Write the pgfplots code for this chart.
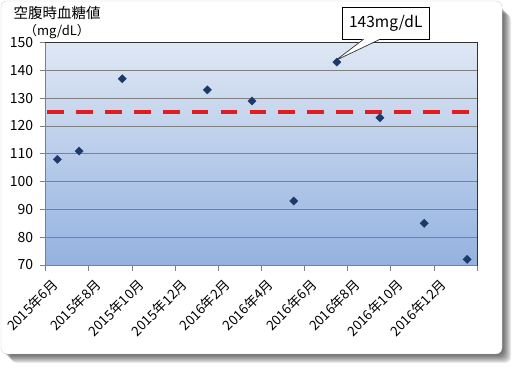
\documentclass[border=0pt]{standalone}
\usepackage{fontspec}
\setmainfont{Noto Sans CJK JP}
\usepackage{pgfplots}
\pgfplotsset{compat=1.18}
\definecolor{markblue}{RGB}{28,58,105}
\definecolor{bgtop}{RGB}{222,231,244}
\definecolor{bgbot}{RGB}{148,178,224}
\definecolor{refred}{RGB}{226,28,28}
\definecolor{gridgray}{RGB}{128,128,128}
\begin{document}
\begin{tikzpicture}[x=1pt,y=1pt]
\path[use as bounding box] (0,0) rectangle (518,371);
\foreach \i in {1,...,9} {
  \fill[black,opacity=0.085,rounded corners=6] (2+\i,17-\i) rectangle (502+\i,366-\i);
}
\fill[white, draw=gray!35, rounded corners=6] (1,17) rectangle (502,370);
\node[font=\fontsize{14.5}{16}\selectfont, inner sep=0] at (57,358) {空腹時血糖値};
\node[font=\fontsize{13}{15}\selectfont, inner sep=0] at (57,339) {（mg/dL）};
\begin{axis}[
  at={(45.7pt,106pt)}, anchor=south west,
  width=431.3pt, height=222.4pt, scale only axis,
  xmin=0, xmax=20, ymin=70, ymax=150,
  ytick={70,80,...,150},
  xtick={0,2,...,20},
  xticklabels={2015年6月,2015年8月,2015年10月,2015年12月,2016年2月,2016年4月,2016年6月,2016年8月,2016年10月,2016年12月,{}},
  tick pos=left, tick align=outside, major tick length=6pt,
  tick style={gridgray, line width=0.7pt},
  ymajorgrids, grid style={gridgray, line width=0.7pt},
  axis line style={black!80, line width=0.8pt},
  axis background/.style={shade, top color=bgtop, bottom color=bgbot},
  /pgf/number format/assume math mode=true,
  yticklabel style={font=\fontsize{14}{16}\selectfont, anchor=east, xshift=-3pt},
  xticklabel style={font=\fontsize{13.5}{15}\selectfont, xshift=12pt, yshift=-9pt, rotate=45, anchor=east},
  clip=false,
]
\addplot[refred, line width=4pt, dash pattern=on 16.7pt off 12.2pt] coordinates {(0.07,125) (20,125)};
\addplot[only marks, mark=square*, mark size=2.9pt, mark options={rotate=45, fill=markblue, draw=markblue}]
  coordinates {(0.54,108) (1.55,111) (3.55,137) (7.5,133) (9.57,129) (11.5,93) (13.5,143) (15.5,123) (17.55,85) (19.54,72)};
\draw[gridgray, line width=0.8pt] (axis cs:0,150) -- (axis cs:0,70) -- (axis cs:20,70);
\node[draw=black, fill=white, line width=0.8pt, font=\fontsize{15.5}{17}\selectfont, minimum width=87.6pt, minimum height=32pt, inner sep=0] at (axis cs:15.77,157.05) {143mg/dL};
\fill[white] (axis cs:14.74,151.4) -- (axis cs:13.45,143.6) -- (axis cs:15.51,151.4) -- cycle;
\draw[black!80, line width=0.7pt] (axis cs:14.74,151.2) -- (axis cs:13.45,143.6) -- (axis cs:15.51,151.2);
\end{axis}
\end{tikzpicture}
\end{document}
